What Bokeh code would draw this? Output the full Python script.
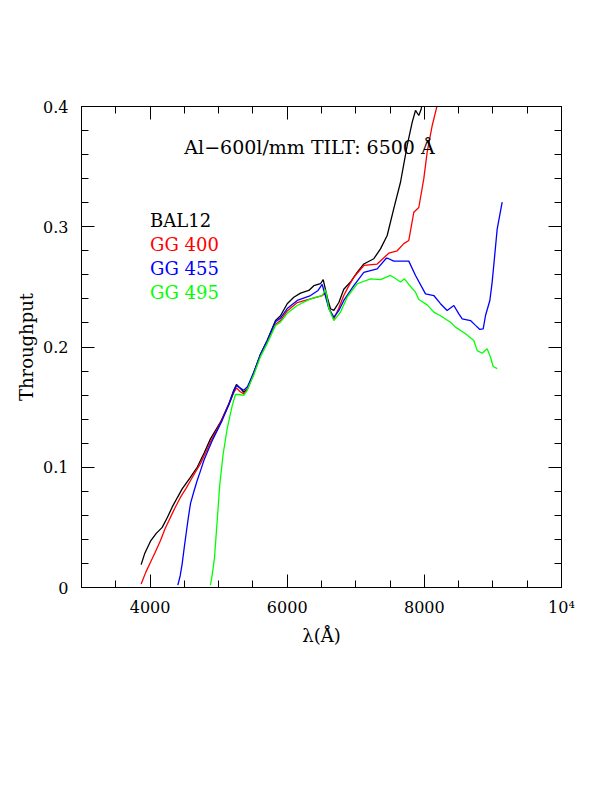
from bokeh.plotting import figure
from bokeh.models import Range1d, LinearAxis, FixedTicker, CustomJSTickFormatter, ColumnDataSource
from bokeh.core.properties import value
from bokeh.embed import file_html
from bokeh.resources import INLINE

# ---------------- data ----------------
bal12_wl = [3870, 3920, 4006, 4090, 4177, 4250, 4322, 4400, 4468, 4580, 4687, 4790, 4881,
            5027, 5148, 5220, 5260, 5310, 5367, 5420, 5513, 5610, 5708, 5829, 5902, 6000,
            6096, 6194, 6315, 6388, 6485, 6525, 6583, 6631, 6680, 6753, 6825, 6923, 7020,
            7117, 7263, 7360, 7458, 7554, 7652, 7750, 7823, 7871, 7919, 7954, 7990]
bal12_tp = [0.019, 0.028, 0.0385, 0.045, 0.050, 0.058, 0.0668, 0.075, 0.082, 0.091, 0.100,
            0.112, 0.1236, 0.1375, 0.1527, 0.164, 0.1688, 0.166, 0.1624, 0.165, 0.179, 0.194,
            0.2054, 0.222, 0.226, 0.236, 0.2414, 0.2448, 0.247, 0.251, 0.2526, 0.256, 0.2414,
            0.2318, 0.2304, 0.237, 0.248, 0.254, 0.262, 0.269, 0.2734, 0.2816, 0.2927, 0.315,
            0.337, 0.3676, 0.387, 0.3967, 0.3925, 0.398, 0.41]

gg400_wl = [3870, 3940, 4006, 4080, 4152, 4220, 4298, 4370, 4444, 4520, 4590, 4660, 4735,
            4810, 4881, 5027, 5148, 5220, 5260, 5310, 5367, 5420, 5513, 5610, 5708, 5829,
            5902, 6000, 6146, 6340, 6510, 6560, 6608, 6680, 6750, 6825, 6900, 6971, 7117,
            7312, 7481, 7604, 7700, 7773, 7846, 7919, 7992, 8041, 8114, 8187, 8200]
gg400_tp = [0.003, 0.013, 0.021, 0.030, 0.039, 0.049, 0.0585, 0.067, 0.0751, 0.082, 0.089,
            0.096, 0.103, 0.112, 0.121, 0.137, 0.152, 0.162, 0.166, 0.163, 0.161, 0.165,
            0.178, 0.193, 0.204, 0.219, 0.222, 0.230, 0.237, 0.240, 0.2428, 0.2448, 0.232,
            0.2234, 0.232, 0.2428, 0.251, 0.258, 0.2678, 0.269, 0.278, 0.280, 0.286, 0.2886,
            0.312, 0.316, 0.340, 0.362, 0.384, 0.401, 0.41]

gg455_wl = [4405, 4440, 4468, 4500, 4531, 4560, 4590, 4640, 4687, 4735, 4784, 4845, 4906,
            5052, 5148, 5220, 5260, 5310, 5367, 5420, 5513, 5610, 5708, 5829, 5902, 6000,
            6146, 6340, 6450, 6510, 6608, 6680, 6750, 6825, 6971, 7117, 7312, 7448, 7481,
            7554, 7773, 7871, 8017, 8138, 8235, 8332, 8430, 8503, 8552, 8673, 8746, 8809,
            8858, 8892, 8955, 8989, 9062, 9135]
gg455_tp = [0.002, 0.010, 0.0197, 0.034, 0.047, 0.059, 0.070, 0.080, 0.089, 0.097, 0.1056,
            0.114, 0.122, 0.139, 0.152, 0.163, 0.168, 0.166, 0.164, 0.167, 0.179, 0.194,
            0.2054, 0.221, 0.224, 0.232, 0.2387, 0.2428, 0.247, 0.252, 0.232, 0.2248, 0.230,
            0.2387, 0.2511, 0.262, 0.265, 0.274, 0.2734, 0.2714, 0.2714, 0.2595, 0.2442,
            0.2428, 0.236, 0.2304, 0.2345, 0.2276, 0.2234, 0.222, 0.218, 0.2146, 0.215,
            0.2262, 0.2387, 0.254, 0.298, 0.3204]

gg495_wl = [4881, 4910, 4940, 4979, 5017, 5066, 5124, 5197, 5245, 5300, 5367, 5416, 5513,
            5610, 5708, 5829, 5902, 6000, 6146, 6340, 6510, 6560, 6608, 6680, 6777, 6874,
            7020, 7215, 7360, 7506, 7579, 7652, 7710, 7773, 7871, 7919, 8041, 8138, 8235,
            8381, 8454, 8600, 8721, 8771, 8843, 8916, 8965, 9004, 9062]
gg495_tp = [0.002, 0.012, 0.025, 0.0557, 0.086, 0.111, 0.132, 0.151, 0.1605, 0.1605, 0.1597,
            0.164, 0.177, 0.192, 0.203, 0.218, 0.2206, 0.228, 0.2345, 0.240, 0.2428, 0.2476,
            0.232, 0.222, 0.229, 0.2414, 0.2526, 0.2567, 0.256, 0.2595, 0.257, 0.254, 0.2567,
            0.252, 0.2456, 0.2395, 0.235, 0.229, 0.226, 0.2206, 0.2165, 0.211, 0.2054, 0.197,
            0.1948, 0.1985, 0.1915, 0.1838, 0.182]

series_names = ["BAL12", "GG 400", "GG 455", "GG 495"]
series_colors = ["#000000", "#ff0000", "#0000ff", "#00ff00"]

x_ticks = [4000, 6000, 8000, 10000]
x_tick_labels = ["4000", "6000", "8000", "10\u2074"]
y_ticks = [0.0, 0.1, 0.2, 0.3, 0.4]
y_tick_labels = ["0", "0.1", "0.2", "0.3", "0.4"]

title_text = "Al\u2212600l/mm TILT: 6500 \u00c5"
x_label = "\u03bb(\u00c5)"
y_label = "Throughput"

# ---------------- figure ----------------
FONT = "DejaVu Serif"

p = figure(width=596, height=776, output_backend="svg", toolbar_location=None,
           x_range=Range1d(3000, 10000), y_range=Range1d(0, 0.4),
           min_border_left=81, min_border_right=35, min_border_top=106, min_border_bottom=189,
           x_axis_location=None, y_axis_location=None)
p.grid.visible = False
p.outline_line_color = "black"
p.outline_line_width = 1
p.background_fill_color = "white"
p.border_fill_color = "white"

x_minor = list(range(3000, 10001, 500))
y_minor = [round(i * 0.02, 2) for i in range(0, 21)]

def make_axis(cls_kwargs, ticks, minor, labels, show_labels):
    ax = LinearAxis(**cls_kwargs)
    ax.ticker = FixedTicker(ticks=ticks, minor_ticks=minor)
    if show_labels:
        ax.major_label_overrides = {t: l for t, l in zip(ticks, labels)}
    else:
        ax.formatter = CustomJSTickFormatter(code="return ''")
    ax.major_tick_in = 13
    ax.major_tick_out = 0
    ax.minor_tick_in = 7
    ax.minor_tick_out = 0
    ax.axis_line_color = "black"
    ax.major_tick_line_color = "black"
    ax.minor_tick_line_color = "black"
    ax.major_label_text_font = FONT
    ax.major_label_text_font_size = "16px"
    ax.major_label_text_color = "black"
    ax.axis_label_text_font = FONT
    ax.axis_label_text_font_size = "18px"
    ax.axis_label_text_font_style = "normal"
    ax.axis_label_text_color = "black"
    return ax

xb = make_axis(dict(axis_label=x_label), x_ticks, x_minor, x_tick_labels, True)
xb.major_label_standoff = 10
xb.axis_label_standoff = 5
p.add_layout(xb, "below")

yl = make_axis(dict(axis_label=y_label), y_ticks, y_minor, y_tick_labels, True)
yl.major_label_standoff = 13
yl.axis_label_standoff = 3
p.add_layout(yl, "left")

xt = make_axis(dict(), x_ticks, x_minor, x_tick_labels, False)
xt.major_label_standoff = 0
p.add_layout(xt, "above")

yr = make_axis(dict(), y_ticks, y_minor, y_tick_labels, False)
yr.major_label_standoff = 0
p.add_layout(yr, "right")

# curves
for wl, tp, c in [(bal12_wl, bal12_tp, series_colors[0]),
                  (gg400_wl, gg400_tp, series_colors[1]),
                  (gg455_wl, gg455_tp, series_colors[2]),
                  (gg495_wl, gg495_tp, series_colors[3])]:
    p.line(wl, tp, line_color=c, line_width=1.3)

# legend labels (text in series colours)
leg = ColumnDataSource(dict(x=[4000] * 4,
                            y=[0.305 - 0.02 * i for i in range(4)],
                            text=series_names, color=series_colors))
p.text(x="x", y="y", text="text", text_color="color", source=leg,
       text_font=value(FONT), text_font_size=value("18px"),
       text_baseline="middle", text_align="left")

# title inside the plot
p.text(x=[4500], y=[0.366], text=[title_text], text_color="black",
       text_font=value(FONT), text_font_size=value("19px"),
       text_baseline="middle", text_align="left")

open("out.html", "w").write(file_html(p, INLINE))
